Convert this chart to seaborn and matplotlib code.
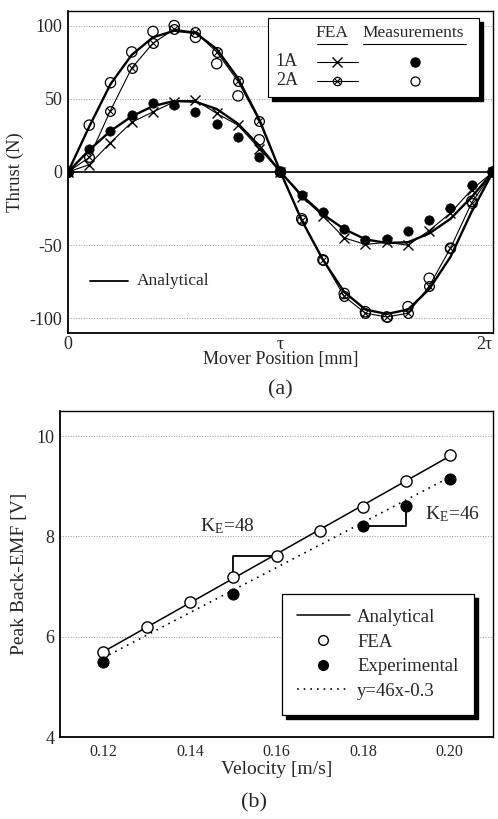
import matplotlib
matplotlib.use("Agg")
import matplotlib.pyplot as plt
import seaborn as sns
from matplotlib.patches import Rectangle
from matplotlib.lines import Line2D

sns.set_theme(style="white")
plt.rcParams['font.family'] = ['Liberation Serif', 'DejaVu Serif']
plt.rcParams['mathtext.fontset'] = 'custom'
plt.rcParams['mathtext.rm'] = 'Liberation Serif'
plt.rcParams['mathtext.it'] = 'Liberation Serif:italic'
plt.rcParams['axes.unicode_minus'] = False

# (a) thrust vs mover position, position in units of tau
position = [0.0, 0.1, 0.2, 0.3, 0.4, 0.5, 0.6, 0.7, 0.8, 0.9, 1.0,
            1.1, 1.2, 1.3, 1.4, 1.5, 1.6, 1.7, 1.8, 1.9, 2.0]
analytical_1a = [0, 15, 28, 38, 45, 48.5, 48, 43, 33, 18, 0,
                 -16, -29, -39, -46, -48.5, -48, -42, -32, -17, 0]
analytical_2a = [0, 31, 60, 80, 92, 96.5, 95, 84, 64, 36, 0,
                 -33, -60, -82, -94, -97, -94, -80, -58, -27, 0]
fea_1a = [0, 5, 20, 34, 41, 48, 49, 40, 32, 16, 0,
          -17, -30, -45, -49.5, -48, -50, -40, -28, -12, 0]
fea_2a = [0, 10, 42, 71, 88, 97.5, 95.5, 82, 62, 35, 0,
          -33, -60, -85, -96.5, -99, -96.5, -78, -52, -21, 0]
meas_1a = [0, 16, 28, 39, 47, 46, 41, 32.5, 24, 10, 0,
           -15.7, -27.5, -39, -46.4, -46, -40, -33, -24.5, -9, 0]
meas_2a = [0, 32, 61, 82, 96, 100, 92, 74, 52, 22, 0,
           -32, -60, -83, -95.5, -99, -92, -72.6, -52, -20, 0]
pos_ticks = [0, 1, 2]
pos_labels = ['0', 'τ', '2τ']

# (b) peak back-EMF vs velocity
vel_fea = [0.12, 0.13, 0.14, 0.15, 0.16, 0.17, 0.18, 0.19, 0.20]
emf_fea = [5.69, 6.2, 6.69, 7.19, 7.6, 8.1, 8.58, 9.1, 9.62]
vel_exp = [0.12, 0.15, 0.18, 0.19, 0.20]
emf_exp = [5.5, 6.85, 8.2, 8.6, 9.14]
vel_line = [0.12, 0.20]
emf_analytical = [5.7, 9.6]
emf_fit = [5.58, 9.18]

fig = plt.figure(figsize=(4.98, 8.19), dpi=100)
ax1 = fig.add_axes([0.1365, 0.5934, 0.8534, 0.3932])
ax2 = fig.add_axes([0.1205, 0.1001, 0.8695, 0.398])

# ---- panel (a)
ax1.yaxis.grid(True, ls=':', color='0.6', lw=0.7)
ax1.axhline(0, color='black', lw=1.2, zorder=1)
sns.lineplot(x=position, y=analytical_1a, ax=ax1, color='black', lw=1.7)
sns.lineplot(x=position, y=analytical_2a, ax=ax1, color='black', lw=1.7)
sns.lineplot(x=position, y=fea_1a, ax=ax1, color='black', lw=0.8, marker='x',
             markersize=7, markeredgecolor='black', markeredgewidth=1.0)
sns.lineplot(x=position, y=fea_2a, ax=ax1, color='black', lw=0.8, marker='o',
             markersize=7, markerfacecolor='none', markeredgecolor='black',
             markeredgewidth=0.9)
sns.scatterplot(x=position, y=fea_2a, ax=ax1, marker='x', s=22, color='black',
                linewidth=0.8, zorder=3)
sns.scatterplot(x=position, y=meas_1a, ax=ax1, color='black', edgecolor='black',
                s=45, zorder=4)
sns.scatterplot(x=position, y=meas_2a, ax=ax1, facecolor='none', edgecolor='black',
                s=55, linewidth=0.9, zorder=4)

ax1.set_xlim(0, 2)
ax1.set_ylim(-110, 110)
ax1.set_xticks(pos_ticks)
ax1.set_xticklabels(pos_labels)
ax1.set_yticks([-100, -50, 0, 50, 100])
ax1.tick_params(axis='x', direction='in', length=5, width=1, pad=2, labelsize=13, color='black')
ax1.tick_params(axis='y', length=0, pad=4, labelsize=13)
ax1.get_xticklabels()[-1].set_horizontalalignment('right')
ax1.set_xlabel('Mover Position [mm]', fontsize=13, labelpad=-1)
ax1.set_ylabel('Thrust (N)', fontsize=13.5, labelpad=4)

# manual table legend
T = ax1.transAxes
ax1.add_patch(Rectangle((0.48, 0.721), 0.496, 0.245, transform=T, color='black', zorder=5))
ax1.add_patch(Rectangle((0.4706, 0.733), 0.4964, 0.245, transform=T, facecolor='white',
                        edgecolor='black', lw=0.8, zorder=6))
ax1.text(0.621, 0.932, 'FEA', transform=T, ha='center', va='center', fontsize=12.5, zorder=7)
ax1.text(0.812, 0.932, 'Measurements', transform=T, ha='center', va='center', fontsize=12.5, zorder=7)
ax1.plot([0.586, 0.656], [0.897, 0.897], transform=T, color='black', lw=0.8, zorder=7)
ax1.plot([0.694, 0.936], [0.897, 0.897], transform=T, color='black', lw=0.8, zorder=7)
ax1.text(0.515, 0.842, '1A', transform=T, ha='center', va='center', fontsize=13, zorder=7)
ax1.text(0.515, 0.783, '2A', transform=T, ha='center', va='center', fontsize=13, zorder=7)
ax1.plot([0.586, 0.682], [0.842, 0.842], transform=T, color='black', lw=0.8, zorder=7)
ax1.plot([0.634], [0.842], transform=T, marker='x', ms=7, mec='black', mew=1.0, zorder=7)
ax1.plot([0.586, 0.682], [0.783, 0.783], transform=T, color='black', lw=0.8, zorder=7)
ax1.plot([0.634], [0.783], transform=T, marker='o', ms=6, mfc='none', mec='black', mew=0.9, zorder=7)
ax1.plot([0.634], [0.783], transform=T, marker='x', ms=4, mec='black', mew=0.8, zorder=7)
ax1.plot([0.816], [0.842], transform=T, marker='o', ms=6.5, mfc='black', mec='black', zorder=7)
ax1.plot([0.816], [0.783], transform=T, marker='o', ms=6.5, mfc='none', mec='black', mew=0.9, zorder=7)

ax1.plot([0.052, 0.141], [0.161, 0.161], transform=T, color='black', lw=1.3)
ax1.text(0.162, 0.161, 'Analytical', transform=T, ha='left', va='center', fontsize=12.5)

# ---- panel (b)
ax2.yaxis.grid(True, ls=':', color='0.6', lw=0.7)
sns.lineplot(x=vel_line, y=emf_analytical, ax=ax2, color='black', lw=1.1)
sns.lineplot(x=vel_line, y=emf_fit, ax=ax2, color='black', lw=1.2, linestyle=(0, (1, 3)))
sns.scatterplot(x=vel_fea, y=emf_fea, ax=ax2, facecolor='white', edgecolor='black',
                s=65, linewidth=1.0, zorder=4)
sns.scatterplot(x=vel_exp, y=emf_exp, ax=ax2, color='black', edgecolor='black',
                s=65, zorder=4)

# slope brackets from the data points
ax2.plot([vel_fea[3], vel_fea[3], vel_fea[4]], [emf_fea[3], emf_fea[4], emf_fea[4]],
         color='black', lw=1.3, zorder=3)
ax2.plot([vel_exp[2], vel_exp[3], vel_exp[3]], [emf_exp[2], emf_exp[2], emf_exp[3]],
         color='black', lw=1.3, zorder=3)
ax2.text(0.1487, 8.2, r'K$_{\mathrm{E}}$=48', ha='center', va='center', fontsize=14)
ax2.text(0.2007, 8.45, r'K$_{\mathrm{E}}$=46', ha='center', va='center', fontsize=14)

ax2.set_xlim(0.11, 0.21)
ax2.set_ylim(4, 10.5)
ax2.set_xticks([0.12, 0.14, 0.16, 0.18, 0.20])
ax2.set_yticks([4, 6, 8, 10])
ax2.tick_params(axis='x', length=0, pad=5, labelsize=11.5)
ax2.tick_params(axis='y', length=0, pad=4, labelsize=13)
ax2.set_xlabel('Velocity [m/s]', fontsize=14, labelpad=1)
ax2.set_ylabel('Peak Back-EMF [V]', fontsize=14, labelpad=6)

handles = [
    Line2D([], [], color='black', lw=1.1),
    Line2D([], [], ls='none', marker='o', ms=7, mfc='white', mec='black', mew=1.0),
    Line2D([], [], ls='none', marker='o', ms=7, mfc='black', mec='black'),
    Line2D([], [], color='black', lw=1.2, linestyle=(0, (1, 3))),
]
labels = ['Analytical', 'FEA', 'Experimental', 'y=46x-0.3']
leg = ax2.legend(handles, labels, loc='lower right', bbox_to_anchor=(0.955, 0.068),
                 frameon=True, fancybox=False, edgecolor='black', framealpha=1,
                 fontsize=13.5, handlelength=2.8, handletextpad=0.4,
                 labelspacing=0.4, borderpad=0.8, borderaxespad=0)
leg.get_frame().set_linewidth(0.9)
leg.set_zorder(6)

for ax in (ax1, ax2):
    for side, sp in ax.spines.items():
        sp.set_color('black')
        sp.set_linewidth(1.3 if side in ('left', 'bottom') else 1.0)

# thick black drop shadow behind the (b) legend box
fig.canvas.draw()
bb = leg.get_window_extent().transformed(ax2.transAxes.inverted())
dx, dy = 4 / (0.8695 * 498), 4 / (0.398 * 819)
ax2.add_patch(Rectangle((bb.x0 + dx, bb.y0 - dy), bb.width, bb.height,
                        transform=ax2.transAxes, color='black', zorder=5))

fig.text(280 / 498, 1 - 390 / 819, '(a)', ha='center', va='center', fontsize=16)
fig.text(254 / 498, 1 - 803 / 819, '(b)', ha='center', va='center', fontsize=16)

fig.savefig('out.png', dpi=100)
